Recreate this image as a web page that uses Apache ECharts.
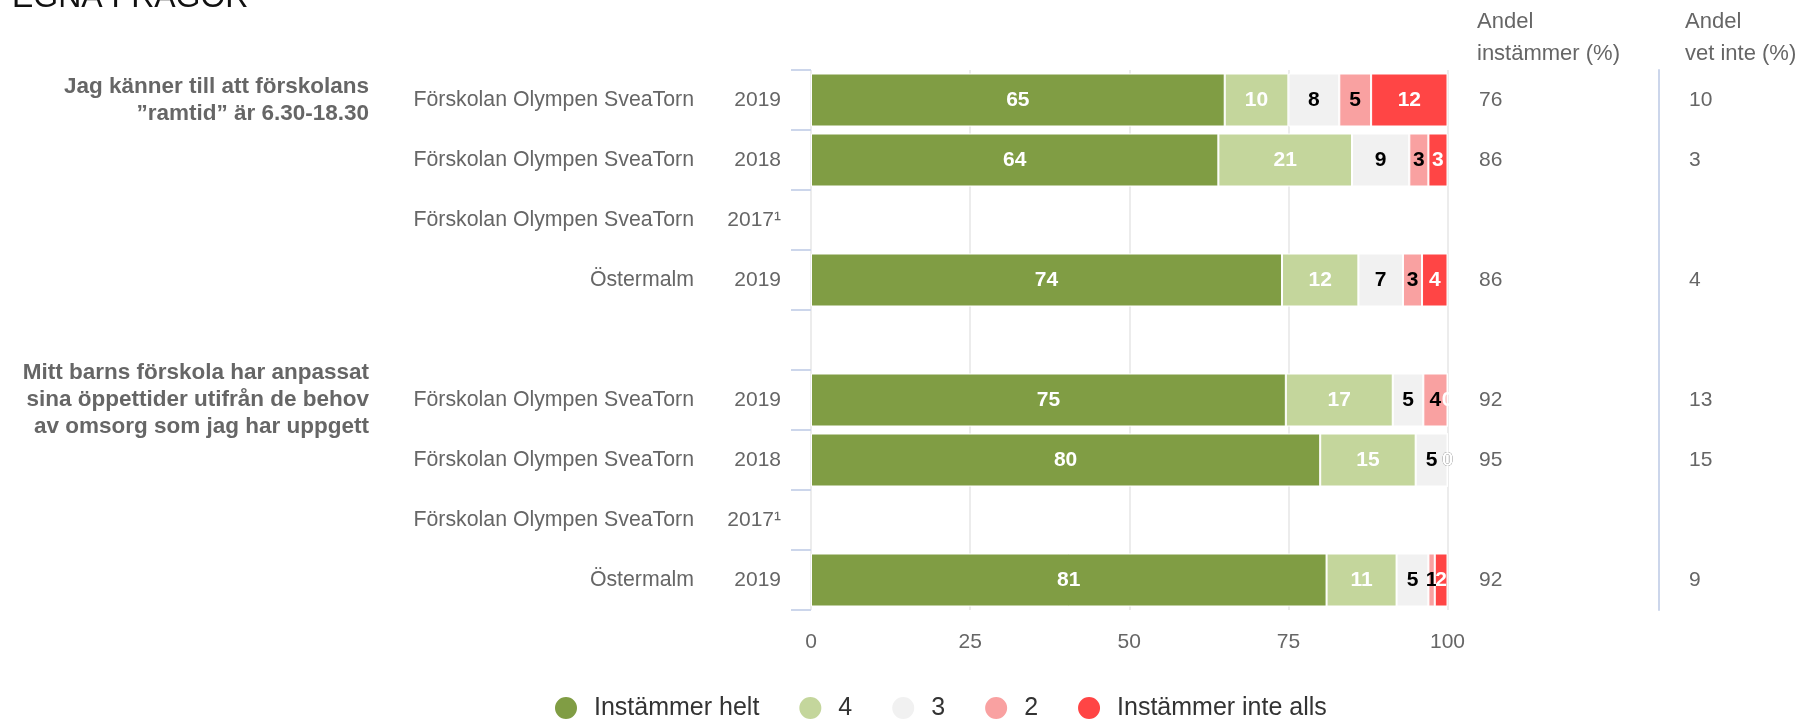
<!DOCTYPE html>
<html>
<head>
<meta charset="utf-8">
<script src="https://cdn.jsdelivr.net/npm/echarts@6/dist/echarts.min.js"></script>
<style>
  html, body { margin: 0; padding: 0; background: #fff; }
  #chart { width: 1810px; height: 720px; }
</style>
</head>
<body>
<div id="chart"></div>
<script>
// rader uppifrån och ned, tom rad mellan frågorna
var schools = ['Förskolan Olympen SveaTorn', 'Förskolan Olympen SveaTorn', 'Förskolan Olympen SveaTorn', 'Östermalm', '',
  'Förskolan Olympen SveaTorn', 'Förskolan Olympen SveaTorn', 'Förskolan Olympen SveaTorn', 'Östermalm'];
var years = ['2019', '2018', '2017¹', '2019', '', '2019', '2018', '2017¹', '2019'];
var questions = ['Jag känner till att förskolans\n”ramtid” är 6.30-18.30', '', '', '', '',
  'Mitt barns förskola har anpassat\nsina öppettider utifrån de behov\nav omsorg som jag har uppgett', '', '', ''];

var seriesNames = ['Instämmer helt', '4', '3', '2', 'Instämmer inte alls'];
var helt    = [65, 64, null, 74, null, 74.6, 80, null, 81];
var fyra    = [10, 21, null, 12, null, 16.8, 15, null, 11];
var tre     = [8, 9, null, 7, null, 4.8, 5, null, 5];
var tva     = [5, 3, null, 3, null, 3.8, 0, null, 1];
var inteAls = [12, 3, null, 4, null, 0, 0, null, 2];

var andelInstammer = ['76', '86', '', '86', '', '92', '95', '', '92'];
var andelVetInte   = ['10', '3', '', '4', '', '13', '15', '', '9'];
var xTicks = [0, 25, 50, 75, 100];

var colors = ['#809d44', '#c4d69c', '#f1f1f1', '#f9a1a1', '#ff4545'];
var labelColors = ['#fff', '#fff', '#000', '#000', '#fff'];
var values = [helt, fyra, tre, tva, inteAls];

var font = 'Liberation Sans, Arial, sans-serif';
var myChart = echarts.init(document.getElementById('chart'));

var series = [];
for (var i = 0; i < seriesNames.length; i++) {
  series.push({
    name: seriesNames[i],
    type: 'bar',
    stack: 'total',
    yAxisIndex: 0,
    barWidth: 53,
    itemStyle: { color: colors[i], borderColor: '#fff', borderWidth: 1 },
    label: {
      show: true,
      position: 'inside',
      color: labelColors[i],
      fontSize: 21,
      fontWeight: 'bold',
      fontFamily: font,
      formatter: function (p) { return p.value == null ? '' : Math.round(p.value); }
    },
    data: values[i]
  });
}

function catAxis(data, pos, margin, extra) {
  var ax = {
    type: 'category',
    inverse: true,
    position: pos,
    data: data,
    axisLine: { show: false },
    axisTick: { show: false },
    splitLine: { show: false },
    axisLabel: { interval: 0, margin: margin, fontSize: 21, color: '#666', fontFamily: font }
  };
  return Object.assign(ax, extra || {});
}

var option = {
  animation: false,
  color: colors,
  grid: { left: 811, right: 362.5, top: 70, height: 540, containLabel: false },
  legend: {
    data: seriesNames,
    left: 553,
    top: 695,
    padding: 0,
    icon: 'circle',
    itemWidth: 24,
    itemHeight: 24,
    itemGap: 38,
    textStyle: { fontSize: 25, color: '#333', fontFamily: font, padding: [0, 0, 0, 11] }
  },
  xAxis: {
    type: 'value',
    min: xTicks[0],
    max: xTicks[xTicks.length - 1],
    interval: 25,
    axisLine: { show: false },
    axisTick: { show: false },
    splitLine: { show: true, lineStyle: { color: '#e6e6e6', width: 1.5 } },
    axisLabel: { margin: 22, fontSize: 21, color: '#666', fontFamily: font }
  },
  yAxis: [
    catAxis(schools, 'left', 117, {
      axisTick: { show: true, length: 20, lineStyle: { color: '#ccd6eb', width: 2 } },
      axisLabel: { interval: 0, margin: 117, fontSize: 21.3, color: '#666', fontFamily: font }
    }),
    catAxis(years, 'left', 30),
    catAxis(questions, 'left', 442, {
      axisLabel: { interval: 0, margin: 442, fontSize: 22.5, fontWeight: 'bold', lineHeight: 27, color: '#666', fontFamily: font }
    }),
    catAxis(andelInstammer, 'right', 31.5),
    catAxis(andelVetInte, 'right', 30, {
      offset: 211.5,
      axisLine: { show: true, lineStyle: { color: '#ccd6eb', width: 2 } }
    })
  ],
  graphic: [
    { type: 'text', left: 12, top: -18, style: { text: 'EGNA FRÅGOR', fontSize: 32, fill: '#111', fontFamily: font } },
    { type: 'text', left: 1477, top: 6, style: { text: 'Andel\ninstämmer (%)', fontSize: 22, lineHeight: 32, fill: '#666', fontFamily: font } },
    { type: 'text', left: 1685, top: 6, style: { text: 'Andel\nvet inte (%)', fontSize: 22, lineHeight: 32, fill: '#666', fontFamily: font } }
  ],
  series: series
};
myChart.setOption(option);
</script>
</body>
</html>
